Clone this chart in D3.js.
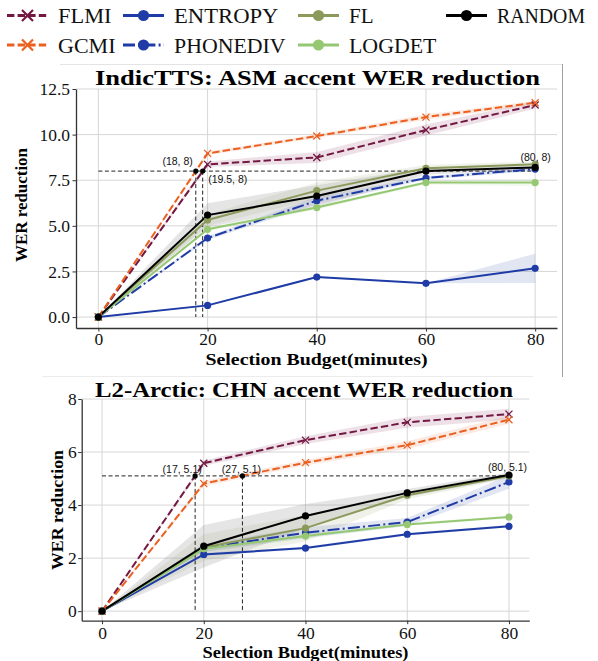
<!DOCTYPE html>
<html><head><meta charset="utf-8">
<script src="https://cdn.jsdelivr.net/npm/d3@7"></script>
<style>body{margin:0;background:#fff}</style>
</head><body>
<svg id="c" width="598" height="661"></svg>
<script>
// ---------------- DATA ----------------
const budget = [0, 20, 40, 60, 80];
const seriesNames = ["FLMI", "GCMI", "ENTROPY", "PHONEDIV", "FL", "LOGDET", "RANDOM"];
const xTickValues = [0, 20, 40, 60, 80];

// IndicTTS: ASM accent
const asmFLMI     = [0, 8.37, 8.75, 10.25, 11.62];
const asmGCMI     = [0, 8.97, 9.92, 10.96, 11.75];
const asmENTROPY  = [0, 0.64, 2.19, 1.85, 2.67];
const asmPHONEDIV = [0, 4.33, 6.38, 7.62, 8.11];
const asmFL       = [0, 5.32, 6.93, 8.15, 8.37];
const asmLOGDET   = [0, 4.81, 6.00, 7.37, 7.37];
const asmRANDOM   = [0, 5.59, 6.63, 8.00, 8.20];
// spread (band half-width)
const asmFLMIErr     = [0, 0.15, 0.30, 0.30, 0.20];
const asmGCMIErr     = [0, 0.10, 0.10, 0.15, 0.10];
const asmENTROPYErr  = [0, 0.05, 0.05, 0.00, 0.80];
const asmPHONEDIVErr = [0, 0.10, 0.20, 0.10, 0.10];
const asmFLErr       = [0, 0.30, 0.45, 0.20, 0.15];
const asmLOGDETErr   = [0, 0.10, 0.10, 0.10, 0.20];
const asmRANDOMErr   = [0, 0.65, 0.60, 0.20, 0.10];
const asmYTicks = [0, 2.5, 5, 7.5, 10, 12.5];

// L2-Arctic: CHN accent
const chnFLMI     = [0, 5.58, 6.45, 7.12, 7.43];
const chnGCMI     = [0, 4.81, 5.60, 6.26, 7.22];
const chnENTROPY  = [0, 2.14, 2.38, 2.90, 3.20];
const chnPHONEDIV = [0, 2.38, 2.96, 3.36, 4.87];
const chnFL       = [0, 2.40, 3.13, 4.37, 5.10];
const chnLOGDET   = [0, 2.35, 2.83, 3.27, 3.55];
const chnRANDOM   = [0, 2.45, 3.59, 4.46, 5.13];
const chnFLMIErr     = [0, 0.10, 0.15, 0.20, 0.20];
const chnGCMIErr     = [0, 0.10, 0.10, 0.15, 0.15];
const chnENTROPYErr  = [0, 0.05, 0.05, 0.05, 0.05];
const chnPHONEDIVErr = [0, 0.15, 0.20, 0.15, 0.25];
const chnFLErr       = [0, 0.50, 0.50, 0.15, 0.10];
const chnLOGDETErr   = [0, 0.10, 0.10, 0.05, 0.05];
const chnRANDOMErr   = [0, 0.80, 0.45, 0.15, 0.10];
const chnYTicks = [0, 2, 4, 6, 8];

// annotations
const asmThreshold = 8;
const asmCrossX = [17.84, 19.1];
const asmLabels = ["(18, 8)", "(19.5, 8)", "(80, 8)"];
const chnThreshold = 5.1;
const chnCrossX = [18.3, 27.6];
const chnLabels = ["(17, 5.1)", "(27, 5.1)", "(80, 5.1)"];

// ---------------- STYLE ----------------
const styles = {
  FLMI:     {color: "#731843", dash: "7.4,3.2", marker: "x"},
  GCMI:     {color: "#ea6020", dash: "7.4,3.2", marker: "x"},
  ENTROPY:  {color: "#1f3ca6", dash: null, marker: "o"},
  PHONEDIV: {color: "#1f3ca6", dash: "12,3.2,2,3.2", marker: "o"},
  FL:       {color: "#8b9a5b", dash: null, marker: "o"},
  LOGDET:   {color: "#96c874", dash: null, marker: "o"},
  RANDOM:   {color: "#000000", dash: null, marker: "o", band: "#888"}
};
const SERIF = '"Liberation Serif", serif';
const SANS = '"Liberation Sans", sans-serif';

const svg = d3.select("#c");

// frame artifacts of the composite figure
svg.append("line").attr("x1",60).attr("x2",562).attr("y1",64.5).attr("y2",64.5).attr("stroke","#e4e4e4");
svg.append("line").attr("x1",562.5).attr("x2",562.5).attr("y1",64).attr("y2",377).attr("stroke","#a0a0a0");
svg.append("line").attr("x1",42).attr("x2",533).attr("y1",376.5).attr("y2",376.5).attr("stroke","#ececec");

function fitText(sel, w) { return sel.attr("textLength", w).attr("lengthAdjust", "spacingAndGlyphs"); }

function drawPanel(p) {
  const g = svg.append("g");
  const x = d3.scaleLinear().domain(p.xDomain).range([p.left, p.right]);
  const y = d3.scaleLinear().domain(p.yDomain).range([p.bottom, p.top]);

  // grid
  g.append("g").selectAll("line").data(p.yTicks).join("line")
    .attr("x1", p.left).attr("x2", p.right).attr("y1", d => y(d)).attr("y2", d => y(d))
    .attr("stroke", "#d6d6d6").attr("stroke-width", 1);
  g.append("g").selectAll("line").data(xTickValues).join("line")
    .attr("y1", p.top).attr("y2", p.bottom).attr("x1", d => x(d)).attr("x2", d => x(d))
    .attr("stroke", "#d6d6d6").attr("stroke-width", 1);

  // bands
  p.series.forEach(s => {
    const st = styles[s.name];
    const area = d3.area()
      .x((d, i) => x(budget[i]))
      .y0((d, i) => y(d - s.err[i]))
      .y1((d, i) => y(d + s.err[i]));
    g.append("path").datum(s.values).attr("d", area)
      .attr("fill", st.band || st.color).attr("fill-opacity", st.band ? 0.22 : 0.13);
  });

  // annotation guide lines
  const ann = g.append("g").attr("stroke", "#222").attr("stroke-width", 1).attr("stroke-dasharray", "4,2.5");
  ann.append("line").attr("x1", x(0)).attr("x2", x(80)).attr("y1", y(p.threshold)).attr("y2", y(p.threshold));
  ann.selectAll(".v").data(p.crossX).join("line")
    .attr("x1", d => x(d)).attr("x2", d => x(d)).attr("y1", y(p.threshold)).attr("y2", y(0));

  // lines
  const line = d3.line().x((d, i) => x(budget[i])).y(d => y(d));
  p.series.forEach(s => {
    const st = styles[s.name];
    g.append("path").datum(s.values).attr("d", line).attr("fill", "none")
      .attr("stroke", st.color).attr("stroke-width", 2)
      .attr("stroke-dasharray", st.dash);
  });
  // markers
  p.series.forEach(s => {
    const st = styles[s.name];
    const mg = g.append("g");
    s.values.forEach((v, i) => {
      const cx = x(budget[i]), cy = y(v);
      if (st.marker === "x") {
        const r = 3.5;
        mg.append("path").attr("d", `M${cx-r},${cy-r}L${cx+r},${cy+r}M${cx-r},${cy+r}L${cx+r},${cy-r}`)
          .attr("stroke", st.color).attr("stroke-width", 1.3);
      } else {
        mg.append("circle").attr("cx", cx).attr("cy", cy).attr("r", 3.6).attr("fill", st.color);
      }
    });
  });

  // axes
  const yAxis = d3.axisLeft(y).tickValues(p.yTicks).tickFormat(p.yFmt).tickSize(3.5).tickSizeOuter(0).tickPadding(p.yPad);
  const xAxis = d3.axisBottom(x).tickValues(xTickValues).tickFormat(d3.format("d")).tickSize(3.5).tickSizeOuter(0).tickPadding(p.xPad);
  [g.append("g").attr("transform", `translate(${p.left},0)`).call(yAxis),
   g.append("g").attr("transform", `translate(0,${p.bottom})`).call(xAxis)].forEach(a => {
    a.attr("font-family", null).attr("font-size", null);
    a.select(".domain").attr("stroke", "#333").attr("stroke-width", 1.3);
    a.selectAll(".tick line").attr("stroke", "#333").attr("stroke-width", 1);
    a.selectAll(".tick text").style("font-family", SERIF).style("font-size", "17.5px").attr("fill", "#111");
  });

  // annotation dots and labels
  g.selectAll(".dot").data(p.crossX).join("circle")
    .attr("cx", d => x(d)).attr("cy", y(p.threshold)).attr("r", 2.6).attr("fill", "#000");
  const labelAt = [p.crossX[0], p.crossX[1], 80];
  p.labels.forEach((t, i) => {
    const o = p.labelOffsets[i];
    g.append("text").style("font-family", SANS).attr("x", x(labelAt[i]) + o.dx).attr("y", y(p.threshold) + o.dy)
      .attr("text-anchor", o.anchor).style("font-size", "10.5px")
      .attr("fill", "#111").text(t);
  });

  // titles
  fitText(g.append("text").style("font-family", SERIF).attr("x", p.titleX).attr("y", p.titleY).attr("text-anchor", "middle")
    .style("font-weight", "bold").style("font-size", p.titleSize + "px").text(p.title), p.titleW);
  fitText(g.append("text").style("font-family", SERIF).attr("x", (p.left + p.right) / 2).attr("y", p.xlabY).attr("text-anchor", "middle")
    .style("font-weight", "bold").style("font-size", "17px").text("Selection Budget(minutes)"), p.xlabW);
  fitText(g.append("text").style("font-family", SERIF).attr("transform", `translate(${p.ylabX},${p.ylabY}) rotate(-90)`).attr("text-anchor", "middle")
    .style("font-weight", "bold").style("font-size", "17px").text("WER reduction"), p.ylabW);
}

function mk(names, vals, errs) { return names.map((n, i) => ({name: n, values: vals[i], err: errs[i]})); }

drawPanel({
  left: 76, right: 557, top: 89, bottom: 328,
  xDomain: [-4.1, 84], yDomain: [-0.6, 12.5],
  yTicks: asmYTicks, yFmt: d3.format(".1f"), yPad: 2.5, xPad: 1.1,
  series: mk(seriesNames,
    [asmFLMI, asmGCMI, asmENTROPY, asmPHONEDIV, asmFL, asmLOGDET, asmRANDOM],
    [asmFLMIErr, asmGCMIErr, asmENTROPYErr, asmPHONEDIVErr, asmFLErr, asmLOGDETErr, asmRANDOMErr]),
  threshold: asmThreshold, crossX: asmCrossX, labels: asmLabels,
  labelOffsets: [{dx: -3, dy: -6, anchor: "end"}, {dx: 5.5, dy: 12, anchor: "start"}, {dx: 0.5, dy: -10, anchor: "middle"}],
  title: "IndicTTS: ASM accent WER reduction", titleX: 317.5, titleY: 85, titleW: 445, titleSize: 22,
  xlabY: 365, xlabW: 222, ylabX: 27, ylabY: 205, ylabW: 114
});

drawPanel({
  left: 81.7, right: 529.3, top: 399, bottom: 620.7,
  xDomain: [-4, 84], yDomain: [-0.36, 8],
  yTicks: chnYTicks, yFmt: d3.format("d"), yPad: 1.5, xPad: 2,
  series: mk(seriesNames,
    [chnFLMI, chnGCMI, chnENTROPY, chnPHONEDIV, chnFL, chnLOGDET, chnRANDOM],
    [chnFLMIErr, chnGCMIErr, chnENTROPYErr, chnPHONEDIVErr, chnFLErr, chnLOGDETErr, chnRANDOMErr]),
  threshold: chnThreshold, crossX: chnCrossX, labels: chnLabels,
  labelOffsets: [{dx: 6.6, dy: -3, anchor: "end"}, {dx: -1, dy: -3, anchor: "middle"}, {dx: -1.4, dy: -5, anchor: "middle"}],
  title: "L2-Arctic: CHN accent WER reduction", titleX: 304, titleY: 396.5, titleW: 418, titleSize: 21,
  xlabY: 658, xlabW: 206, ylabX: 63, ylabY: 510, ylabW: 120
});

// ---------------- LEGEND ----------------
const legendOrder = [["FLMI", "ENTROPY", "FL", "RANDOM"], ["GCMI", "PHONEDIV", "LOGDET"]];
const legendColX = [7, 123, 298, 446];
const legendRowY = [15.5, 45];
const legendTextW = {FLMI: 53.5, ENTROPY: 104.5, FL: 24.5, RANDOM: 88, GCMI: 57.5, PHONEDIV: 111.5, LOGDET: 87.4};
const lg = svg.append("g");
legendOrder.forEach((row, r) => row.forEach((name, c) => {
  const st = styles[name];
  const x0 = legendColX[c], yc = legendRowY[r];
  lg.append("line").attr("x1", x0).attr("x2", x0 + 41).attr("y1", yc).attr("y2", yc)
    .attr("stroke", st.color).attr("stroke-width", 3).attr("stroke-dasharray", st.dash);
  const mx = x0 + 20.5;
  if (st.marker === "x") {
    const r0 = 5.5;
    lg.append("path").attr("d", `M${mx-r0},${yc-r0}L${mx+r0},${yc+r0}M${mx-r0},${yc+r0}L${mx+r0},${yc-r0}`)
      .attr("stroke", st.color).attr("stroke-width", 2.2);
  } else {
    lg.append("circle").attr("cx", mx).attr("cy", yc).attr("r", 5.6).attr("fill", st.color);
  }
  fitText(lg.append("text").style("font-family", SERIF).attr("x", x0 + 51).attr("y", yc + 7.5)
    .style("font-size", "21.5px").attr("fill", "#111").text(name), legendTextW[name]);
}));
</script>
</body></html>
